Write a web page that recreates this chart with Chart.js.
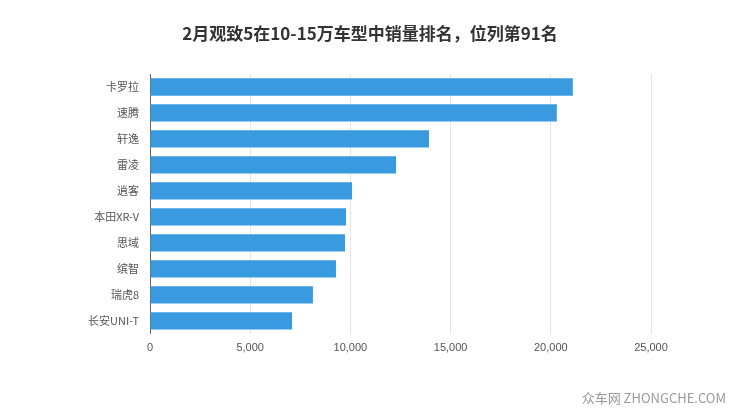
<!DOCTYPE html>
<html><head><meta charset="utf-8">
<script src="https://cdn.jsdelivr.net/npm/chart.js@4"></script>
<style>body{margin:0;background:#fff}#w{position:relative;width:740px;height:417px}
#t{position:absolute;top:20px;left:0;width:740px;text-align:center;font:bold 17px "Noto Sans CJK SC",sans-serif;color:#333}
#m{position:absolute;right:14px;bottom:10px;font:13px "Noto Sans CJK SC",sans-serif;color:#999}</style>
</head><body><div id="w"><div id="t">2月观致5在10-15万车型中销量排名，位列第91名</div>
<canvas id="c" width="740" height="417"></canvas><div id="m">众车网 ZHONGCHE.COM</div></div>
<script>
const categories=["卡罗拉","速腾","轩逸","雷凌","逍客","本田XR-V","思域","缤智","瑞虎8","长安UNI-T"];
const sales=[21100,20300,13920,12280,10080,9780,9730,9280,8130,7090];
new Chart(document.getElementById('c'),{type:'bar',
data:{labels:categories,datasets:[{data:sales,backgroundColor:'#3a9ae0',barPercentage:0.7,categoryPercentage:0.95}]},
options:{indexAxis:'y',responsive:false,animation:false,
layout:{padding:{top:74,left:20,right:89,bottom:54}},
plugins:{legend:{display:false},tooltip:{enabled:false}},
scales:{x:{min:0,max:25000,ticks:{stepSize:5000,color:'#555',font:{size:11},padding:8},grid:{color:'#e5e5e5',drawTicks:false},border:{display:false}},
y:{afterFit:s=>{s.width=130},ticks:{color:'#555',font:{size:11,family:'"Noto Sans CJK SC",sans-serif'}},grid:{display:false},border:{color:'#666'}}}}});
</script></body></html>
